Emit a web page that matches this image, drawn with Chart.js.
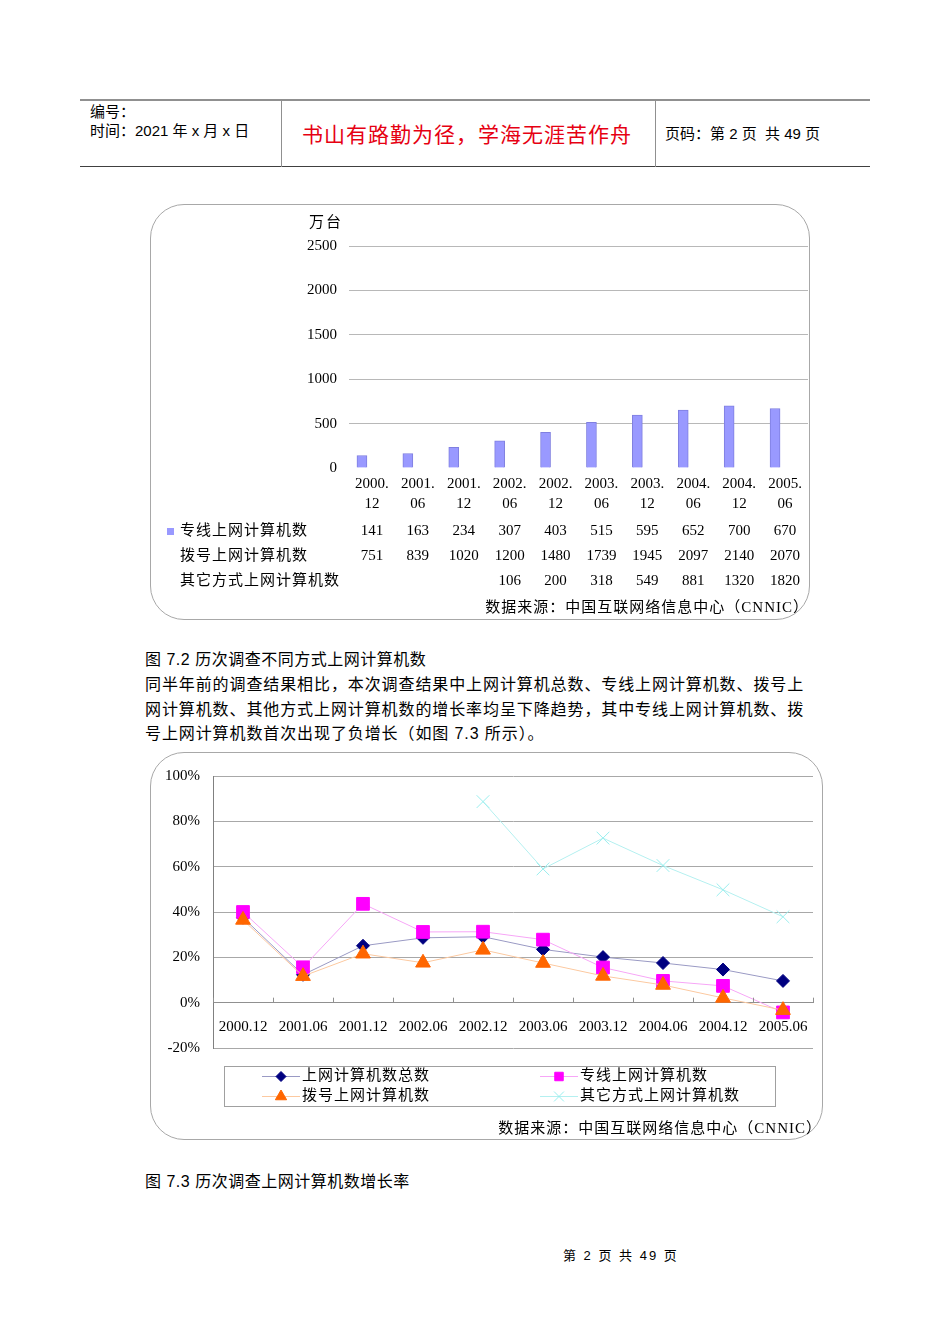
<!DOCTYPE html>
<html>
<head>
<meta charset="utf-8">
<script src="https://cdn.jsdelivr.net/npm/chart.js@4/dist/chart.umd.min.js"></script>
<style>
  body { margin: 0; background: #fff; }
  #page { position: relative; width: 950px; height: 1344px; overflow: hidden; font-family: "Liberation Sans", "Noto Sans CJK SC", sans-serif; color: #000; }
  .t { position: absolute; white-space: pre; line-height: 20px; }
  .hline { position: absolute; height: 0; }
  .vline { position: absolute; width: 0; border-left: 1px solid #909090; }
  .box { position: absolute; border: 1px solid #a8a8a8; box-sizing: border-box; }
  .cv { position: absolute; }
  .body { font-size: 16px; letter-spacing: 0.9px; }
</style>
</head>
<body>
<div id="page">
  <!-- header table -->
  <div class="hline" style="left:80px; top:99px; width:790px; border-top:2px solid #909090;"></div>
  <div class="hline" style="left:80px; top:166px; width:790px; border-top:1px solid #404040;"></div>
  <div class="vline" style="left:281px; top:100px; height:67px;"></div>
  <div class="vline" style="left:655px; top:100px; height:67px;"></div>
  <div class="t" style="left:90px; top:102px; font-size:15px;">编号：</div>
  <div class="t" style="left:90px; top:121px; font-size:15px;">时间：2021 年 x 月 x 日</div>
  <div class="t" style="left:302px; top:124px; font-size:21px; line-height:22px; color:#e60012; letter-spacing:1px;">书山有路勤为径，学海无涯苦作舟</div>
  <div class="t" style="left:665px; top:124px; font-size:15px;">页码：第 2 页  共 49 页</div>

  <!-- figure 7.2 -->
  <div class="box" style="left:150px; top:204px; width:660px; height:416px; border-radius:34px;"></div>
  <canvas id="countChart" class="cv" width="660" height="416" style="left:150px; top:204px;"></canvas>

  <div class="t body" style="left:145px; top:650px; letter-spacing:0.5px;">图 7.2 历次调查不同方式上网计算机数</div>
  <div class="t body" style="left:145px; top:675px;">同半年前的调查结果相比，本次调查结果中上网计算机总数、专线上网计算机数、拨号上</div>
  <div class="t body" style="left:145px; top:700px;">网计算机数、其他方式上网计算机数的增长率均呈下降趋势，其中专线上网计算机数、拨</div>
  <div class="t body" style="left:145px; top:724px;">号上网计算机数首次出现了负增长（如图 7.3 所示）。</div>

  <!-- figure 7.3 -->
  <div class="box" style="left:150px; top:752px; width:673px; height:388px; border-radius:34px;"></div>
  <canvas id="growthChart" class="cv" width="673" height="388" style="left:150px; top:752px;"></canvas>

  <div class="t body" style="left:145px; top:1172px; letter-spacing:0.5px;">图 7.3 历次调查上网计算机数增长率</div>

  <div class="t" style="left:563px; top:1246px; font-size:13px; letter-spacing:2px;">第 2 页 共 49 页</div>
</div>

<script>
// survey periods (two-line tick labels in fig 7.2)
const periodLabels = [['2000.', '12'], ['2001.', '06'], ['2001.', '12'], ['2002.', '06'], ['2002.', '12'],
                      ['2003.', '06'], ['2003.', '12'], ['2004.', '06'], ['2004.', '12'], ['2005.', '06']];
const growthLabels = ['2000.12', '2001.06', '2001.12', '2002.06', '2002.12',
                      '2003.06', '2003.12', '2004.06', '2004.12', '2005.06'];

// fig 7.2 – computers online, 万台
const leasedLine = [141, 163, 234, 307, 403, 515, 595, 652, 700, 670];
const dialUp = [751, 839, 1020, 1200, 1480, 1739, 1945, 2097, 2140, 2070];
const otherWays = [null, null, null, 106, 200, 318, 549, 881, 1320, 1820];
const tableRows = ['专线上网计算机数', '拨号上网计算机数', '其它方式上网计算机数'];

// fig 7.3 – growth rates, %
const totalGrowth = [37.5, 12.3, 25.1, 28.6, 29.1, 23.5, 20.1, 17.5, 14.6, 9.6];
const leasedGrowth = [40, 15.6, 43.6, 31.2, 31.3, 27.8, 15.5, 9.6, 7.4, -4.3];
const dialGrowth = [36.5, 11.7, 21.6, 17.6, 23.3, 17.5, 11.8, 7.8, 2.1, -3.3];
const otherGrowth = [null, null, null, null, 88.7, 59, 72.6, 60.5, 49.8, 37.9];
const growthSeries = ['上网计算机数总数', '专线上网计算机数', '拨号上网计算机数', '其它方式上网计算机数'];

const sourceText = '数据来源：中国互联网络信息中心（CNNIC）';
const FONT = '"Liberation Serif", "Noto Sans CJK SC", serif';

Chart.defaults.font.family = FONT;
Chart.defaults.font.size = 15;
Chart.defaults.color = '#000';
Chart.defaults.animation = false;

function text(ctx, str, x, y, align, spacing) {
    ctx.save();
    ctx.font = '15px ' + FONT;
    ctx.fillStyle = '#000';
    ctx.textAlign = align;
    ctx.textBaseline = 'middle';
    ctx.letterSpacing = (spacing || 0) + 'px';
    ctx.fillText(str, x, y);
    ctx.restore();
}

// unit label, data table and source under fig 7.2
const countTable = {
    id: 'countTable',
    afterDraw(chart) {
        const ctx = chart.ctx;
        const x = chart.scales.x;
        text(ctx, '万台', 176, 19, 'center', 2);
        const rows = [leasedLine, dialUp, otherWays];
        rows.forEach((vals, r) => {
            const y = 327 + r * 25;
            text(ctx, tableRows[r], 30, y, 'left', 1);
            vals.forEach((v, i) => {
                if (v !== null) text(ctx, String(v), x.getPixelForValue(i), y, 'center');
            });
        });
        ctx.fillStyle = '#9999ff';
        ctx.fillRect(17, 324, 7, 7);
        text(ctx, sourceText, 659, 404, 'right', 1);
    }
};

// only the leased-line series is filled; the other two keep their slots in each group
function hiddenBar(label, data) {
    return { label, data, backgroundColor: 'rgba(0,0,0,0)', borderWidth: 0, barThickness: 10 };
}

new Chart(document.getElementById('countChart'), {
    type: 'bar',
    data: {
        labels: periodLabels,
        datasets: [{
            label: tableRows[0],
            data: leasedLine,
            backgroundColor: '#9999ff',
            borderColor: '#7f7fe0',
            borderWidth: 1,
            barThickness: 10
        },
        hiddenBar(tableRows[1], dialUp),
        hiddenBar(tableRows[2], otherWays)]
    },
    options: {
        responsive: false,
        layout: { padding: { top: 42, right: 2, left: 0, bottom: 0 } },
        plugins: { legend: { display: false }, tooltip: { enabled: false } },
        scales: {
            x: {
                grid: { display: false },
                border: { display: false },
                ticks: { padding: -2, maxRotation: 0, font: { size: 15, lineHeight: 1.34 } },
                afterFit: s => { s.height = 152; }
            },
            y: {
                min: 0,
                max: 2500,
                ticks: { stepSize: 500, padding: 12, callback: v => String(v) },
                grid: {
                    drawTicks: false,
                    color: c => c.tick.value === 0 ? 'rgba(0,0,0,0)' : '#b8b8b8'
                },
                border: { display: false },
                afterFit: s => { s.width = 199; }
            }
        }
    },
    plugins: [countTable]
});

// tick marks pointing up, legend box and source for fig 7.3
const growthExtras = {
    id: 'growthExtras',
    afterDraw(chart) {
        const ctx = chart.ctx;
        const x = chart.scales.x;
        const y0 = chart.scales.y.getPixelForValue(0);
        const step = x.getPixelForValue(1) - x.getPixelForValue(0);
        ctx.save();
        ctx.strokeStyle = '#909090';
        ctx.lineWidth = 1;
        for (let i = 0; i <= growthLabels.length; i++) {
            const px = Math.round(x.getPixelForValue(i) - step / 2) + 0.5;
            ctx.beginPath();
            ctx.moveTo(px, y0);
            ctx.lineTo(px, y0 - 5);
            ctx.stroke();
        }
        ctx.strokeStyle = '#a0a0a0';
        ctx.strokeRect(74.5, 314.5, 551, 40);
        chart.data.datasets.forEach((ds, i) => {
            const col = i % 2, row = Math.floor(i / 2);
            const lx = col === 0 ? 112 : 390;
            const ly = 324 + row * 20;
            ctx.strokeStyle = ds.borderColor;
            ctx.beginPath();
            ctx.moveTo(lx, ly + 0.5);
            ctx.lineTo(lx + 38, ly + 0.5);
            ctx.stroke();
            ctx.fillStyle = ds.pointBackgroundColor;
            ctx.strokeStyle = ds.pointBorderColor;
            Chart.helpers.drawPoint(ctx, {
                pointStyle: ds.pointStyle,
                radius: ds.legendRadius,
                rotation: 0,
                borderWidth: 1
            }, lx + 19, ly + 0.5);
            text(ctx, ds.label, lx + 40, ly, 'left', 1);
        });
        ctx.restore();
        text(ctx, sourceText, 672, 377, 'right', 1);
    }
};

function series(label, data, line, marker, style, radius, legendRadius, order) {
    return {
        label, data, order,
        borderColor: line,
        borderWidth: 1,
        pointStyle: style,
        pointRadius: radius,
        pointBackgroundColor: marker,
        pointBorderColor: marker,
        pointBorderWidth: 1,
        legendRadius,
        tension: 0
    };
}

new Chart(document.getElementById('growthChart'), {
    type: 'line',
    data: {
        labels: growthLabels,
        datasets: [
            series(growthSeries[0], totalGrowth, '#9a9ac4', '#000080', 'rectRot', 6.5, 5, 4),
            series(growthSeries[1], leasedGrowth, '#f7a6f7', '#ff00ff', 'rect', 9, 6, 3),
            series(growthSeries[2], dialGrowth, '#fcc9a0', '#ff6600', 'triangle', 8.5, 6.5, 2),
            series(growthSeries[3], otherGrowth, '#b4f0f0', '#99eeee', 'crossRot', 9, 7, 1)
        ]
    },
    options: {
        responsive: false,
        layout: { padding: { top: 24, right: 10, left: 0, bottom: 92 } },
        plugins: { legend: { display: false }, tooltip: { enabled: false } },
        scales: {
            x: {
                position: { y: 0 },
                offset: true,
                grid: { drawOnChartArea: false, drawTicks: false },
                border: { display: true, color: '#909090' },
                ticks: { padding: 15, maxRotation: 0 }
            },
            y: {
                min: -20,
                max: 100,
                ticks: { stepSize: 20, padding: 13, callback: v => v + '%' },
                grid: {
                    drawTicks: false,
                    color: c => c.tick.value === 0 ? 'rgba(0,0,0,0)' : '#a8a8a8'
                },
                border: { display: true, color: '#808080' },
                afterFit: s => { s.width = 63; }
            }
        }
    },
    plugins: [growthExtras]
});
</script>
</body>
</html>
